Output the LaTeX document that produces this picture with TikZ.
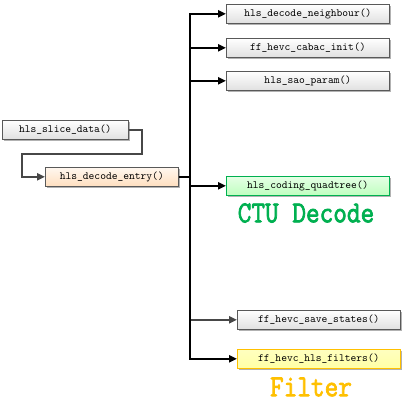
\documentclass[tikz,border=0pt]{standalone}
\usepackage{fontspec}
\setmonofont{Latin Modern Mono}
\newfontfamily\bigmono{Latin Modern Mono}[AutoFakeBold=2.5]
\usetikzlibrary{arrows.meta,shadows,calc}
\definecolor{ctugreen}{RGB}{0,176,80}
\definecolor{filtorange}{RGB}{255,192,0}
\begin{document}
\begin{tikzpicture}[x=1pt,y=-1pt,
  fn/.style={draw=black!65, line width=0.6pt, minimum height=19pt, inner sep=0pt,
    font=\ttfamily\fontsize{11}{12}\selectfont, anchor=north west,
    top color=white, bottom color=black!12,
    drop shadow={shadow xshift=2pt, shadow yshift=-2pt, fill=black!30, opacity=1}},
  busline/.style={line width=2.4pt, black, line join=miter},
  arr/.style={-{Triangle[length=8pt,width=7pt]}},
  grayline/.style={line width=2pt, black!72, line join=miter},
  big/.style={font=\bigmono\bfseries\fontsize{26.5}{27}\selectfont, inner sep=0pt}
]
\useasboundingbox (0,0) rectangle (404,407);
\fill[white] (0,0) rectangle (404,407);

\node[fn, minimum width=126pt] (slice) at (2,120) {hls\_slice\_data()};
\node[fn, minimum width=133pt, top color=orange!6, bottom color=orange!25] (entry) at (45,167) {hls\_decode\_entry()};

\node[fn, minimum width=163pt] (nb) at (226,4) {hls\_decode\_neighbour()};
\node[fn, minimum width=163pt] (cabac) at (226,38) {ff\_hevc\_cabac\_init()};
\node[fn, minimum width=163pt] (sao) at (226,71) {hls\_sao\_param()};
\node[fn, minimum width=163pt, draw=ctugreen, top color=green!10, bottom color=green!25] (cq) at (226,176) {hls\_coding\_quadtree()};
\node[fn, minimum width=163pt] (save) at (237,310) {ff\_hevc\_save\_states()};
\node[fn, minimum width=163pt, draw=filtorange, top color=yellow!25, bottom color=yellow!35] (flt) at (237,349) {ff\_hevc\_hls\_filters()};

\node[big, text=ctugreen] (ctu) at (306,213) {\scalebox{1}[1.15]{CTU Decode}};
\node[big, text=filtorange] (filt) at (311,387) {\scalebox{1}[1.15]{Filter}};

% slice -> entry
\coordinate (c1) at (142,154);
\coordinate (c2) at (22,154);
\draw[grayline, arr] (slice.east) -| (c1) -- (c2) |- (entry.west);

% bus
\coordinate (bus) at (190,0);
\draw[busline] (entry.east) -- (bus |- entry.east);
\draw[busline, arr] (bus |- entry.east) |- (nb.west);
\draw[busline, arr] (bus |- cabac.west) -- (cabac.west);
\draw[busline, arr] (bus |- sao.west) -- (sao.west);
\draw[busline, arr] (bus |- cq.west) -- (cq.west);
\draw[busline, arr] (bus |- entry.east) |- (flt.west);
\draw[grayline, arr] ($(bus |- save.west)+(1.2,0)$) -- (save.west);
\end{tikzpicture}
\end{document}
